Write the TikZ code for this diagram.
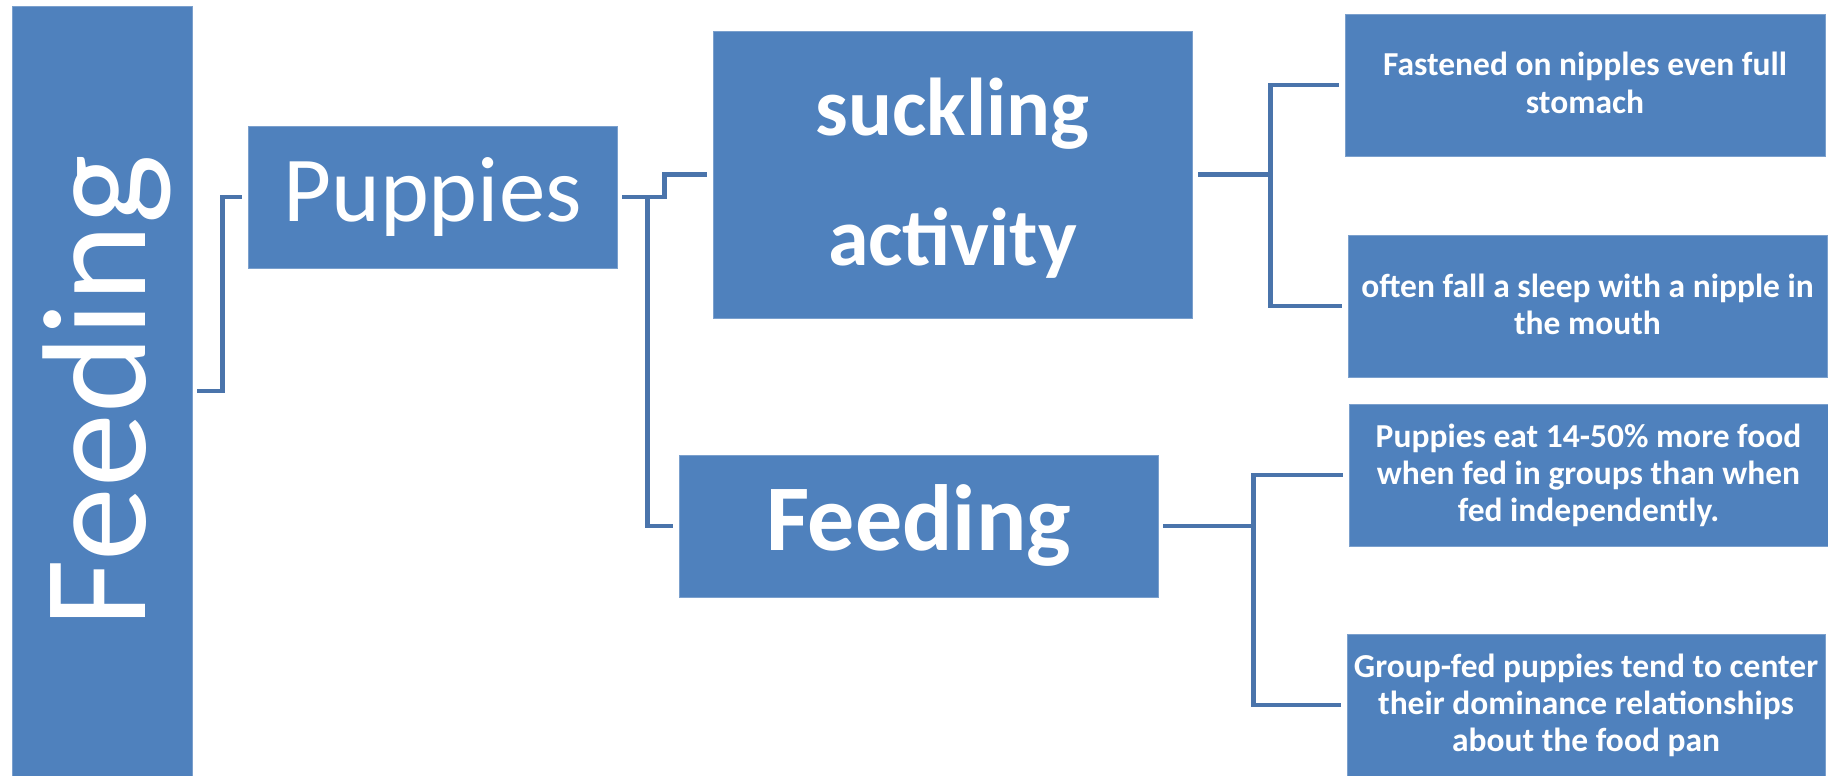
\documentclass[tikz,border=0pt]{standalone}
\usepackage{graphicx}
\usepackage{fontspec}
\setmainfont{Carlito}
\definecolor{boxblue}{HTML}{4F81BD}
\definecolor{lineblue}{HTML}{4A74AB}
\newcommand\smallstrut{\rule[-9pt]{0pt}{37pt}}
\begin{document}
\begin{tikzpicture}[x=1pt,y=-1pt,
  box/.style={fill=boxblue, draw=boxblue!75!white, line width=0.8pt, inner sep=0pt, text=white, align=center},
  conn/.style={draw=lineblue, line width=4.5pt},
  small/.style={font=\bfseries\fontsize{33.5}{37}\selectfont}]
\useasboundingbox (0,0) rectangle (1828,776);
% boxes
\node[box, minimum width=180, minimum height=770] (feed0) at (102,391)
  {\rotatebox{90}{\fontsize{148}{220}\selectfont\rule[-46pt]{0pt}{178pt}Feeding}};
\node[box, minimum width=369, minimum height=142, font=\fontsize{93}{120}\selectfont] (puppies) at (432.5,197) {\strut Puppies};
\node[box, minimum width=479, minimum height=287, font=\bfseries\fontsize{82}{130}\selectfont] (suck) at (952.5,174.5) {\strut suckling\\\strut activity};
\node[box, minimum width=479, minimum height=142, font=\bfseries\fontsize{94}{120}\selectfont] (feed1) at (918.5,526) {\strut Feeding};
\node[box, small, minimum width=480, minimum height=142] (r1) at (1585,85) {\smallstrut Fastened on nipples even full\\\smallstrut stomach};
\node[box, small, minimum width=479, minimum height=142] (r2) at (1587.5,306) {\smallstrut often fall a sleep with a nipple in\\\smallstrut the mouth};
\node[box, small, minimum width=479, minimum height=142] (r3) at (1588.5,475) {\smallstrut Puppies eat 14-50\% more food\\\smallstrut when fed in groups than when\\\smallstrut fed independently.};
\node[box, small, minimum width=478, minimum height=142] (r4) at (1586,705) {\smallstrut Group-fed puppies tend to center\\\smallstrut their dominance relationships\\\smallstrut about the food pan};
% connectors
\draw[conn] ([xshift=5]feed0.east) -- ++(25,0) |- ([xshift=-6]puppies.west);
\draw[conn] ([xshift=5]puppies.east) -- ++(42,0) |- ([xshift=-6]suck.west);
\draw[conn] ([xshift=30]puppies.east) |- ([xshift=-6]feed1.west);
\draw[conn] ([xshift=6]suck.east) -- ++(72,0) coordinate (j1);
\draw[conn] (j1) |- ([xshift=-6]r1.west);
\draw[conn] (j1) |- ([xshift=-6]r2.west);
\draw[conn] ([xshift=5]feed1.east) -- ++(90,0) coordinate (j2);
\draw[conn] (j2) |- ([xshift=-6]r3.west);
\draw[conn] (j2) |- ([xshift=-6]r4.west);
\end{tikzpicture}
\end{document}
